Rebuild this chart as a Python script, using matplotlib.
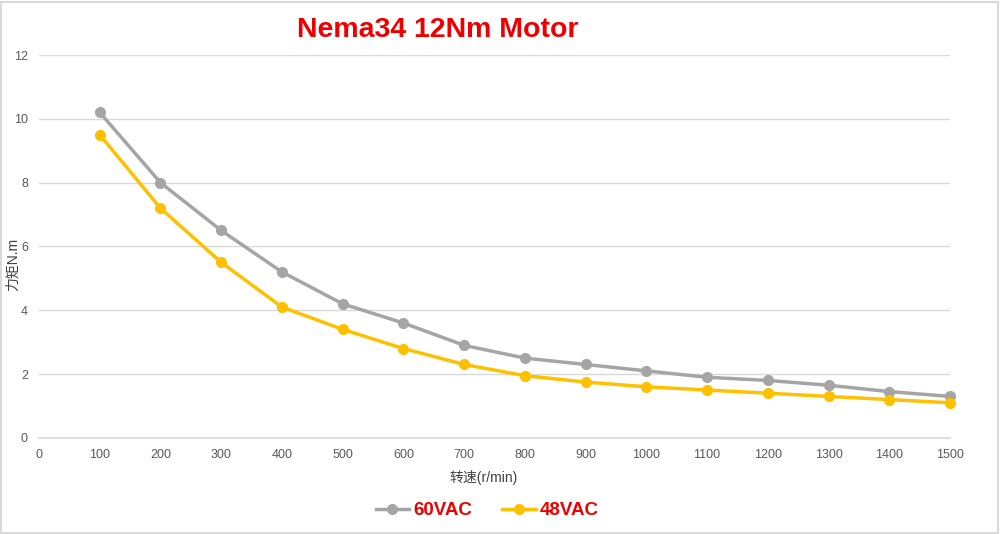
import matplotlib.pyplot as plt
from matplotlib.patches import Rectangle

plt.rcParams['font.family'] = ['Liberation Sans', 'Noto Sans CJK SC', 'DejaVu Sans']

# 转速 r/min
speed = [100, 200, 300, 400, 500, 600, 700, 800, 900, 1000, 1100, 1200, 1300, 1400, 1500]
# 力矩 N.m
torque_60vac = [10.2, 8.0, 6.5, 5.2, 4.2, 3.6, 2.9, 2.5, 2.3, 2.1, 1.9, 1.8, 1.65, 1.45, 1.3]
torque_48vac = [9.5, 7.2, 5.5, 4.1, 3.4, 2.8, 2.3, 1.95, 1.75, 1.6, 1.5, 1.4, 1.3, 1.2, 1.1]
x_ticks = [0, 100, 200, 300, 400, 500, 600, 700, 800, 900, 1000, 1100, 1200, 1300, 1400, 1500]
y_ticks = [0, 2, 4, 6, 8, 10, 12]

fig = plt.figure(figsize=(10, 5.34), dpi=100)
ax = fig.add_axes([0.039, 0.18, 0.911, 0.717])

ax.plot(speed, torque_60vac, color='#A5A5A5', lw=2.5, marker='o', ms=7, label='60VAC',
        zorder=3, clip_on=False)
ax.plot(speed, torque_48vac, color='#FFC000', lw=2.5, marker='o', ms=7, label='48VAC',
        zorder=4, clip_on=False)

ax.set_xlim(0, 1500)
ax.set_ylim(0, 12)
ax.set_xticks(x_ticks)
ax.set_yticks(y_ticks)
ax.grid(axis='y', color='#D9D9D9', lw=1)
ax.axhline(0, color='#D9D9D9', lw=1.2, clip_on=False)
ax.set_axisbelow(True)
for s in ax.spines.values():
    s.set_visible(False)
ax.tick_params(length=0, labelsize=9, colors='#595959', pad=8)

ax.set_xlabel('转速(r/min)', fontsize=10, color='#404040')
ax.xaxis.set_label_coords(0.488, -0.085)
fig.text(0.013, 0.505, '力矩N.m', fontsize=10, color='#404040', rotation=90,
         ha='center', va='center')

fig.text(0.438, 0.944, 'Nema34 12Nm Motor', color='#EE0000', fontsize=20.5,
         fontweight='bold', ha='center', va='center')

leg = fig.legend(loc='center', bbox_to_anchor=(0.487, 0.044), ncol=2, frameon=False,
                 fontsize=13.5, handlelength=1.8, columnspacing=1.6, handletextpad=0.2)
for t in leg.get_texts():
    t.set_color('#EE0000')
    t.set_fontweight('bold')

fig.patches.append(Rectangle((0.001, 0.002), 0.997, 0.995, transform=fig.transFigure,
                             fill=False, edgecolor='#D9D9D9', lw=1.5))

fig.savefig('out.png', dpi=100)
